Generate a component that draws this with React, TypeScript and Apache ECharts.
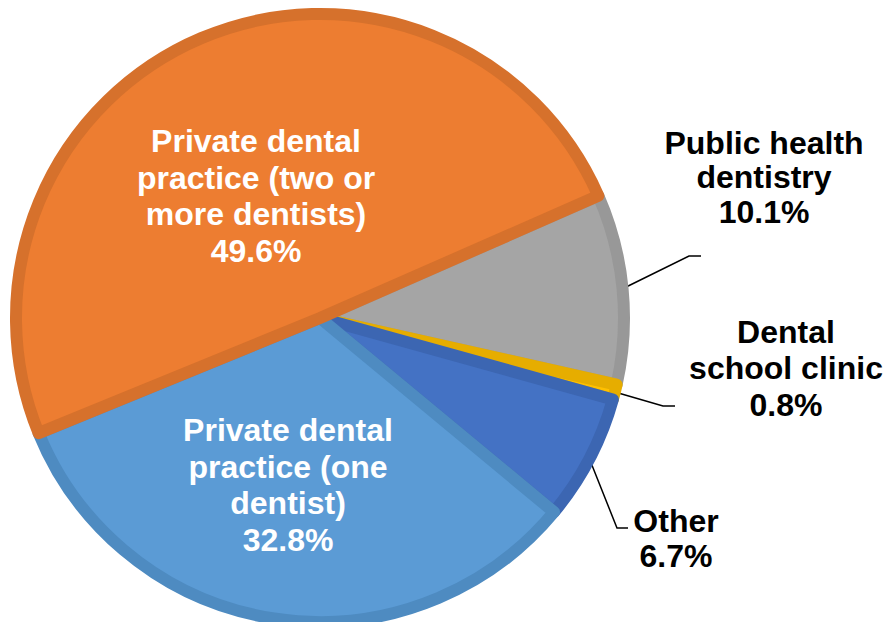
import React, { useEffect, useRef } from "react";
import * as echarts from "echarts";

// Data (clockwise from the top-right boundary)
const categories = [
  "Public health dentistry",
  "Dental school clinic",
  "Other",
  "Private dental practice (one dentist)",
  "Private dental practice (two or more dentists)",
];
const shares = [10.1, 0.8, 6.7, 32.8, 49.6];
const labelText = [
  "Public health\ndentistry",
  "Dental\nschool clinic",
  "Other",
  "Private dental\npractice (one\ndentist)",
  "Private dental\npractice (two or\nmore dentists)",
];

// Styles
const FILL = ["#A5A5A5", "#FFC000", "#4472C4", "#5B9BD5", "#ED7D31"];
const BORDER = ["#989898", "#E6AD00", "#3C66B2", "#4E8BC1", "#D6712C"];
const INSIDE = [false, false, false, true, true];
// label block centres and leader-line bends (layout only)
const LABEL_POS: [number, number][] = [
  [764, 177],
  [786, 368],
  [676, 538],
  [288, 485],
  [256, 196],
];
const LEADER: ([number, number][] | null)[] = [
  [[689, 256], [701, 256]],
  [[663, 406], [675, 406]],
  [[617, 528], [628, 528]],
  null,
  null,
];
const LINE_H = [34.5, 36.5, 35, 36.5, 36.5];

export default function App() {
  const ref = useRef<HTMLDivElement>(null);
  useEffect(() => {
    if (!ref.current) return;
    const chart = echarts.init(ref.current, null, { renderer: "svg" });
    chart.setOption({
      animation: false,
      backgroundColor: "#ffffff",
      series: [
        {
          type: "pie",
          center: [320, 318],
          radius: 304,
          startAngle: 23.7,
          clockwise: true,
          avoidLabelOverlap: false,
          emphasis: { disabled: true },
          label: {
            show: true,
            fontFamily: "'Liberation Sans', Arial, sans-serif",
            fontWeight: "bold",
            fontSize: 32,
            color: "#000",
            formatter: (p: any) =>
              `${labelText[p.dataIndex]}\n${Number(p.value).toFixed(1)}%`,
          },
          labelLine: {
            show: true,
            length: 20,
            length2: 10,
            smooth: false,
            lineStyle: { color: "#000", width: 1.5 },
          },
          labelLayout: (params: any) => {
            const i = params.dataIndex;
            const c = LABEL_POS[i];
            const out: any = {
              x: c[0],
              y: c[1],
              align: "center",
              verticalAlign: "middle",
            };
            const lead = LEADER[i];
            const pts = params.labelLinePoints;
            if (lead && pts) {
              out.labelLinePoints = [pts[0], lead[0], lead[1]];
            }
            return out;
          },
          data: categories.map((name, i) => ({
            name,
            value: shares[i],
            itemStyle: {
              color: FILL[i],
              borderColor: BORDER[i],
              borderWidth: 12,
            },
            label: INSIDE[i]
              ? { position: "inside", color: "#ffffff", lineHeight: LINE_H[i] }
              : { position: "outside", color: "#000000", lineHeight: LINE_H[i] },
            labelLine: { show: !INSIDE[i] },
          })),
        },
      ],
    });
    return () => chart.dispose();
  }, []);
  return (
    <div
      ref={ref}
      style={{
        position: "absolute",
        left: 0,
        top: 0,
        width: 885,
        height: 622,
        background: "#fff",
      }}
    />
  );
}
